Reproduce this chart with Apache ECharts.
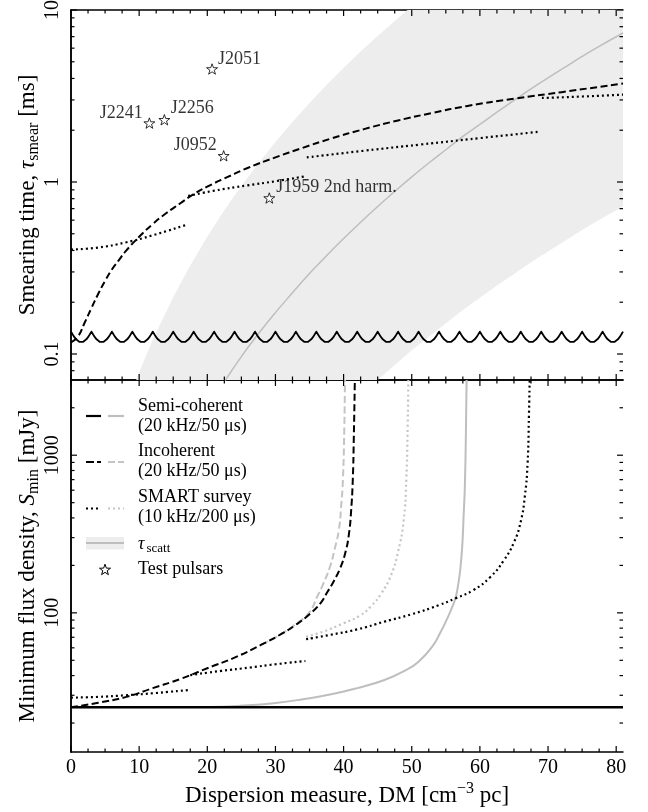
<!DOCTYPE html>
<html>
<head>
<meta charset="utf-8">
<script src="https://cdn.jsdelivr.net/npm/echarts@6/dist/echarts.min.js"></script>
<style>
  html, body { margin: 0; padding: 0; background: #fff; }
  #chart { width: 648px; height: 812px; }
</style>
</head>
<body>
<div id="chart"></div>
<script>
// ---------------- data ----------------
// Shared x axis: dispersion measure (cm^-3 pc)
const xTickValues = [0, 10, 20, 30, 40, 50, 60, 70, 80];
const xTickLabels = ['0', '10', '20', '30', '40', '50', '60', '70', '80'];

// Upper panel: smearing time (ms)
const topYTickValues = [0.1, 1, 10];
const topYTickLabels = ['0.1', '1', '10'];
const topYMinorTicks = [0.08, 0.09, 0.2, 0.3, 0.4, 0.5, 0.6, 0.7, 0.8, 0.9, 2, 3, 4, 5, 6, 7, 8, 9];

// Lower panel: minimum flux density (mJy)
const botYTickValues = [100, 1000];
const botYTickLabels = ['100', '1000'];
const botYMinorTicks = [20, 30, 40, 50, 60, 70, 80, 90, 200, 300, 400, 500, 600, 700, 800, 900, 2000];

// Semi-coherent smearing: one period of the profile between neighbouring DM trials
const semiCohTrialDM = [0, 3, 6, 9, 12, 15, 18, 21, 24, 27, 30, 33, 36, 39, 42, 45, 48, 51, 54, 57, 60, 63, 66, 69, 72, 75, 78, 81];
const semiCohProfileOffset = [0, 0.25, 0.5, 0.75, 1.0, 1.25, 1.5, 1.75, 2.0, 2.25, 2.5, 2.75];
const semiCohProfileSmear = [0.135, 0.1297, 0.1253, 0.1217, 0.1191, 0.1175, 0.117, 0.1175, 0.1191, 0.1217, 0.1253, 0.1297];

// Incoherent smearing
const incohDM = [0, 1, 2, 3, 4, 5, 6, 7, 8, 10, 12, 14, 16, 18, 20, 23, 26, 30, 34, 38, 43, 48, 53, 58, 65, 72, 81];
const incohSmear = [0.117, 0.126, 0.152, 0.185, 0.224, 0.266, 0.31, 0.35, 0.395, 0.48, 0.57, 0.66, 0.75, 0.85, 0.94, 1.07, 1.21, 1.39, 1.58, 1.78, 2.03, 2.28, 2.52, 2.76, 3.05, 3.33, 3.74];

// SMART survey smearing, one segment per dedispersion plan step
const smartDM1 = [0, 4, 8, 12, 17];
const smartSmear1 = [0.405, 0.416, 0.445, 0.49, 0.565];
const smartDM2 = [17.2, 21, 25.8, 30, 34.4];
const smartSmear2 = [0.83, 0.89, 0.955, 1.01, 1.08];
const smartDM3 = [34.6, 43, 51.2, 60, 68.7];
const smartSmear3 = [1.39, 1.52, 1.65, 1.80, 1.96];
const smartDM4 = [69.1, 75, 81];
const smartSmear4 = [3.08, 3.14, 3.22];

// Scattering time: central relation and its spread
const scattDM = [22, 25, 27.5, 30, 32.5, 35, 37.5, 40, 42.5, 45, 47.5, 50, 52.5, 55, 57.5, 60, 62.5, 65, 67.5, 70, 72.5, 75, 77.5, 81];
const scattTau = [0.0643, 0.0966, 0.131, 0.174, 0.227, 0.294, 0.373, 0.469, 0.584, 0.720, 0.880, 1.07, 1.29, 1.54, 1.84, 2.16, 2.55, 2.98, 3.48, 4.03, 4.65, 5.37, 6.15, 7.35];
const scattUpperDM = [9.5, 10, 12, 15, 17.5, 20, 22.5, 25, 27.5, 30, 32.5, 35, 37.5, 40, 42.5, 45, 47.5, 50, 52.5, 55, 60, 65, 70, 75, 81];
const scattUpper = [0.0697, 0.0783, 0.121, 0.214, 0.327, 0.480, 0.684, 0.947, 1.28, 1.71, 2.23, 2.88, 3.66, 4.60, 5.73, 7.06, 8.63, 10.5, 12.6, 15.1, 21.2, 29.2, 39.5, 52.6, 72.1];
const scattLowerDM = [44, 45, 47.5, 50, 52.5, 55, 57.5, 60, 62.5, 65, 67.5, 70, 72.5, 75, 77.5, 81];
const scattLower = [0.0651, 0.0706, 0.0863, 0.105, 0.126, 0.151, 0.180, 0.212, 0.250, 0.292, 0.341, 0.395, 0.456, 0.526, 0.603, 0.721];

// Test pulsars
const pulsarNames = ['J2051', 'J2241', 'J2256', 'J0952', 'J1959 2nd harm.'];
const pulsarDM = [20.7, 11.5, 13.7, 22.4, 29.1];
const pulsarSmear = [4.54, 2.20, 2.30, 1.42, 0.807];

// Minimum flux density, without scattering (black) and with scattering (grey)
const semiCohSminDM = [0, 81];
const semiCohSmin = [25.2, 25.2];
const semiCohScattDM = [0, 20, 26, 30, 34, 38, 42, 46, 49, 51, 53, 54.2, 55.2, 56.1, 56.5, 56.8, 57.1, 57.4, 57.6, 57.8, 57.95, 58.05];
const semiCohScattSmin = [25.2, 25.3, 25.9, 26.8, 28.3, 30.3, 33.3, 37.5, 43, 49, 61, 75, 92, 113, 128, 150, 185, 260, 400, 650, 1400, 3000];

const incohSminDM = [0, 4, 8, 12, 16, 20, 24, 28, 31, 33, 35, 36.6, 37.6, 38.6, 39.5, 40.3, 40.8, 41.1, 41.35, 41.5, 41.65];
const incohSmin = [25.2, 26.9, 29.2, 33.3, 38, 44.5, 52, 63, 74, 84, 98, 115, 135, 160, 192, 245, 320, 440, 700, 1300, 3000];
const incohScattDM = [28, 31, 33, 35, 36.1, 37, 38, 38.7, 39.3, 39.65, 39.9, 40.1, 40.2];
const incohScattSmin = [63, 74, 85, 101, 126, 152, 196, 255, 335, 480, 700, 1450, 3000];

const smartSminDM1 = [0, 4, 8, 12, 17.3];
const smartSmin1 = [29.0, 29.3, 30.0, 30.9, 32.4];
const smartSminDM2 = [17.5, 22, 26.3, 30, 34.4];
const smartSmin2 = [40.3, 42.8, 45.0, 47.2, 49.5];
const smartSminDM3 = [34.5, 38, 42, 46, 50, 54, 56.5, 59, 61.5, 63.5, 65, 66, 66.6, 67.0, 67.2, 67.3];
const smartSmin3 = [68, 72.5, 78.5, 88, 98, 112, 124, 139, 168, 215, 280, 380, 550, 890, 1800, 3000];
const smartScattDM3 = [34.5, 37, 40, 42.4, 44, 45.5, 47, 48, 48.8, 49.2, 49.4, 49.5];
const smartScattSmin3 = [70.5, 76, 86, 96, 110, 132, 175, 245, 380, 700, 1500, 3000];

// ---------------- layout & style ----------------
const FONT = '"Liberation Serif", "DejaVu Serif", serif';
const X_MIN = 0, X_MAX = 81;
const TOP_MIN = 0.0706, TOP_MAX = 10;
const BOT_MIN = 13.1, BOT_MAX = 3000;
const GRID_LEFT = 71, GRID_WIDTH = 552;
const BLACK = '#000';
const GREY = '#bebebe';
const GREY_DASH = '#c4c4c4';
const BAND = '#ededed';
const DASH = [7, 3.5];
const DOT = [2, 3];
const SMOOTH = 0.5;
// five-pointed star outline (unit outer radius)
const STAR_UNIT = [[0, -1], [0.235, -0.324], [0.951, -0.309], [0.38, 0.124], [0.588, 0.809], [0, 0.4],
  [-0.588, 0.809], [-0.38, 0.124], [-0.951, -0.309], [-0.235, -0.324]];
const STAR = 'path://M' + STAR_UNIT.map(p => (p[0] * 10).toFixed(2) + ',' + (p[1] * 10).toFixed(2)).join('L') + 'Z';
const STAR_SIZE = 11;

const xMinorTicks = [];
for (let v = 2.5; v < X_MAX; v += 2.5) if (v % 10 !== 0) xMinorTicks.push(v);

function pair(xs, ys) { return xs.map((x, i) => [x, ys[i]]); }

function logLabel(values, labels) {
  return function (v) {
    const k = values.findIndex(t => Math.abs(Math.log10(v / t)) < 1e-6);
    return k >= 0 ? labels[k] : '';
  };
}

function line(grid, xs, ys, color, width, dash, extra) {
  return Object.assign({
    type: 'line', xAxisIndex: grid * 2, yAxisIndex: grid * 2,
    data: pair(xs, ys), symbol: 'none', showSymbol: false,
    silent: true, animation: false, clip: true, z: 3, smooth: SMOOTH,
    lineStyle: { color: color, width: width, type: dash || 'solid', cap: 'butt', join: 'round' }
  }, extra || {});
}

// tick marks on all four sides of a panel, placed through the panel's axes
function ticks(grid, yMajor, yMinor, yLo, yHi) {
  return {
    type: 'custom', xAxisIndex: grid * 2, yAxisIndex: grid * 2,
    silent: true, animation: false, z: 20, clip: false,
    data: [[X_MIN, yLo]],
    renderItem: function (params, api) {
      const kids = [];
      const seg = (p, dx, dy) => kids.push({
        type: 'line', shape: { x1: p[0], y1: p[1], x2: p[0] + dx, y2: p[1] + dy },
        style: { stroke: BLACK, lineWidth: 1.2 }
      });
      const xt = (vals, len) => vals.forEach(v => {
        seg(api.coord([v, yLo]), 0, -len);
        seg(api.coord([v, yHi]), 0, len);
      });
      const yt = (vals, len) => vals.forEach(v => {
        seg(api.coord([X_MIN, v]), len, 0);
        seg(api.coord([X_MAX, v]), -len, 0);
      });
      xt(xTickValues, 6); xt(xMinorTicks, 3.5);
      yt(yMajor, 6); yt(yMinor, 3.5);
      return { type: 'group', children: kids };
    }
  };
}

// semi-coherent smearing ripple across the DM trials
const semiCohWave = [];
for (let t = 0; t < semiCohTrialDM.length - 1; t++) {
  semiCohProfileOffset.forEach((o, i) => semiCohWave.push([semiCohTrialDM[t] + o, semiCohProfileSmear[i]]));
}
semiCohWave.push([semiCohTrialDM[semiCohTrialDM.length - 1], semiCohProfileSmear[0]]);

const axisLine = { show: true, lineStyle: { color: BLACK, width: 1.5 } };
const noTick = { show: false };
const tickFont = { fontFamily: FONT, fontSize: 20, color: BLACK };

function nameStyle() {
  return {
    fontFamily: FONT, fontSize: 23, color: BLACK, lineHeight: 29,
    rich: {
      i: { fontFamily: FONT, fontSize: 23, fontStyle: 'italic', color: BLACK, lineHeight: 29 },
      sub: { fontFamily: FONT, fontSize: 16, color: BLACK, lineHeight: 15, verticalAlign: 'bottom' },
      sup: { fontFamily: FONT, fontSize: 16, color: BLACK, lineHeight: 15, verticalAlign: 'top' }
    }
  };
}

function xAx(grid, position, withLabels) {
  const ax = {
    type: 'value', gridIndex: grid, position: position, min: X_MIN, max: X_MAX, interval: 10,
    axisLine: axisLine, axisTick: noTick, splitLine: { show: false }, minorTick: { show: false },
    axisLabel: { show: false }
  };
  if (withLabels) {
    ax.axisLabel = Object.assign({
      show: true, margin: 6, showMaxLabel: false,
      formatter: v => { const k = xTickValues.indexOf(v); return k >= 0 ? xTickLabels[k] : ''; }
    }, tickFont);
    ax.name = 'Dispersion measure, DM [cm{sup|−3} pc]';
    ax.nameLocation = 'middle';
    ax.nameGap = 29;
    ax.nameMoveOverlap = false;
    ax.nameTextStyle = nameStyle();
  }
  return ax;
}

function yAx(grid, position, min, max, labelVals, labels, name) {
  const ax = {
    type: 'log', logBase: 10, gridIndex: grid, position: position, min: min, max: max,
    axisLine: axisLine, axisTick: noTick, splitLine: { show: false }, minorTick: { show: false },
    axisLabel: { show: false }
  };
  if (labels) {
    ax.axisLabel = Object.assign({ show: true, rotate: 90, margin: 8, formatter: logLabel(labelVals, labels) }, tickFont);
    ax.name = name;
    ax.nameLocation = 'middle';
    ax.nameGap = 29;
    ax.nameMoveOverlap = false;
    ax.nameTextStyle = nameStyle();
  }
  return ax;
}

// label placement for the test pulsars (offsets from the star centre)
const pulsarLabelPlacement = {
  'J2051': { dx: 6.5, dy: -9.3, align: 'left' },
  'J2241': { dx: -6, dy: -10, align: 'right' },
  'J2256': { dx: 7, dy: -11, align: 'left' },
  'J0952': { dx: -6.3, dy: -10.3, align: 'right' },
  'J1959 2nd harm.': { dx: 7.4, dy: -10.6, align: 'left' }
};

const pulsarData = pulsarNames.map((n, i) => {
  const p = pulsarLabelPlacement[n];
  return {
    name: n, value: [pulsarDM[i], pulsarSmear[i]],
    label: {
      show: true, formatter: n, position: [STAR_SIZE / 2 + p.dx, STAR_SIZE / 2 + p.dy],
      align: p.align, verticalAlign: 'middle', fontFamily: FONT, fontSize: 18, color: BLACK
    }
  };
});

// ---------------- legend (drawn inside the lower panel) ----------------
const LG = { h1: 86, h1e: 101, h2: 108, h2e: 124, tx: 138, starX: 105, starY: 569.5 };
function lgLine(x1, x2, y, color, dash, width) {
  return { type: 'line', silent: true, z: 30, shape: { x1: x1, y1: y, x2: x2, y2: y },
    style: { stroke: color, lineWidth: width || 2.2, lineDash: dash || null, lineCap: 'butt' } };
}
function lgText(text, x, y, extra) {
  return { type: 'text', silent: true, z: 30,
    style: Object.assign({ text: text, x: x, y: y, fill: BLACK, font: '18px ' + FONT, verticalAlign: 'middle', align: 'left' }, extra || {}) };
}
const legendGraphics = [
  lgLine(LG.h1, LG.h1e, 416, BLACK), lgLine(LG.h2, LG.h2e, 416, GREY),
  lgText('Semi-coherent', LG.tx, 406), lgText('(20 kHz/50 μs)', LG.tx, 426),
  lgLine(LG.h1, LG.h1e, 462, BLACK, [8, 3]), lgLine(LG.h2, LG.h2e, 462, GREY_DASH, [7, 3]),
  lgText('Incoherent', LG.tx, 451), lgText('(20 kHz/50 μs)', LG.tx, 471.5),
  lgLine(LG.h1, LG.h1e, 508.5, BLACK, DOT), lgLine(LG.h2, LG.h2e, 508.5, GREY_DASH, DOT),
  lgText('SMART survey', LG.tx, 497.5), lgText('(10 kHz/200 μs)', LG.tx, 517.5),
  { type: 'rect', silent: true, z: 29, shape: { x: LG.h1, y: 537, width: LG.h2e - LG.h1, height: 12.5 }, style: { fill: BAND } },
  lgLine(LG.h1, LG.h2e, 543, GREY, null, 2),
  lgText('τ', LG.tx, 544, { font: 'italic 18px ' + FONT }),
  lgText('scatt', LG.tx + 8.5, 549, { font: '13px ' + FONT }),
  { type: 'polygon', silent: true, z: 30,
    shape: { points: STAR_UNIT.map(p => [LG.starX + p[0] * 5.8, LG.starY + 0.5 + p[1] * 5.8]) },
    style: { fill: '#fff', stroke: BLACK, lineWidth: 1 } },
  lgText('Test pulsars', LG.tx, 569.5)
];

// ---------------- chart ----------------
const chart = echarts.init(document.getElementById('chart'), null, { renderer: 'canvas', width: 648, height: 812 });

const option = {
  animation: false,
  backgroundColor: '#fff',
  grid: [
    { left: GRID_LEFT, width: GRID_WIDTH, top: 10, height: 370, outerBoundsMode: 'none' },
    { left: GRID_LEFT, width: GRID_WIDTH, top: 380, height: 372, outerBoundsMode: 'none' }
  ],
  xAxis: [
    xAx(0, 'bottom', false), xAx(0, 'top', false),
    xAx(1, 'bottom', true), xAx(1, 'top', false)
  ],
  yAxis: [
    yAx(0, 'left', TOP_MIN, TOP_MAX, topYTickValues, topYTickLabels, 'Smearing time, {i|τ}{sub|smear} [ms]'),
    yAx(0, 'right', TOP_MIN, TOP_MAX),
    yAx(1, 'left', BOT_MIN, BOT_MAX, botYTickValues, botYTickLabels, 'Minimum flux density, {i|S}{sub|min} [mJy]'),
    yAx(1, 'right', BOT_MIN, BOT_MAX)
  ],
  graphic: legendGraphics,
  series: [
    // ---- upper panel ----
    {
      type: 'custom', xAxisIndex: 0, yAxisIndex: 0, silent: true, animation: false, z: 1,
      data: [[X_MIN, 1]],
      renderItem: function (params, api) {
        const pts = [];
        scattUpperDM.forEach((d, i) => pts.push(api.coord([d, scattUpper[i]])));
        for (let i = scattLowerDM.length - 1; i >= 0; i--) pts.push(api.coord([scattLowerDM[i], scattLower[i]]));
        const cs = params.coordSys;
        return {
          type: 'polygon', shape: { points: pts }, style: { fill: BAND },
          clipPath: { type: 'rect', shape: { x: cs.x, y: cs.y, width: cs.width, height: cs.height } }
        };
      }
    },
    line(0, scattDM, scattTau, GREY, 1.5, null, { z: 2 }),
    { type: 'line', xAxisIndex: 0, yAxisIndex: 0, data: semiCohWave, symbol: 'none', silent: true,
      animation: false, clip: true, z: 3, lineStyle: { color: BLACK, width: 1.8, join: 'round' } },
    line(0, incohDM, incohSmear, BLACK, 2, DASH),
    line(0, smartDM1, smartSmear1, BLACK, 2.2, DOT),
    line(0, smartDM2, smartSmear2, BLACK, 2.2, DOT),
    line(0, smartDM3, smartSmear3, BLACK, 2.2, DOT),
    line(0, smartDM4, smartSmear4, BLACK, 2.2, DOT),
    {
      type: 'scatter', xAxisIndex: 0, yAxisIndex: 0, silent: true, animation: false, z: 6,
      symbol: STAR, symbolSize: STAR_SIZE, symbolKeepAspect: true,
      itemStyle: { color: '#fff', borderColor: BLACK, borderWidth: 1 },
      data: pulsarData
    },
    ticks(0, topYTickValues, topYMinorTicks, TOP_MIN, TOP_MAX),

    // ---- lower panel ----
    line(1, semiCohScattDM, semiCohScattSmin, GREY, 2, null, { z: 2 }),
    line(1, incohScattDM, incohScattSmin, GREY_DASH, 2, DASH, { z: 2 }),
    line(1, smartScattDM3, smartScattSmin3, GREY_DASH, 2.2, DOT, { z: 2 }),
    line(1, semiCohSminDM, semiCohSmin, BLACK, 2.5, null, { smooth: false }),
    line(1, incohSminDM, incohSmin, BLACK, 2, DASH),
    line(1, smartSminDM1, smartSmin1, BLACK, 2.2, DOT),
    line(1, smartSminDM2, smartSmin2, BLACK, 2.2, DOT),
    line(1, smartSminDM3, smartSmin3, BLACK, 2.2, DOT),
    ticks(1, botYTickValues, botYMinorTicks, BOT_MIN, BOT_MAX)
  ]
};

chart.setOption(option);
</script>
</body>
</html>
